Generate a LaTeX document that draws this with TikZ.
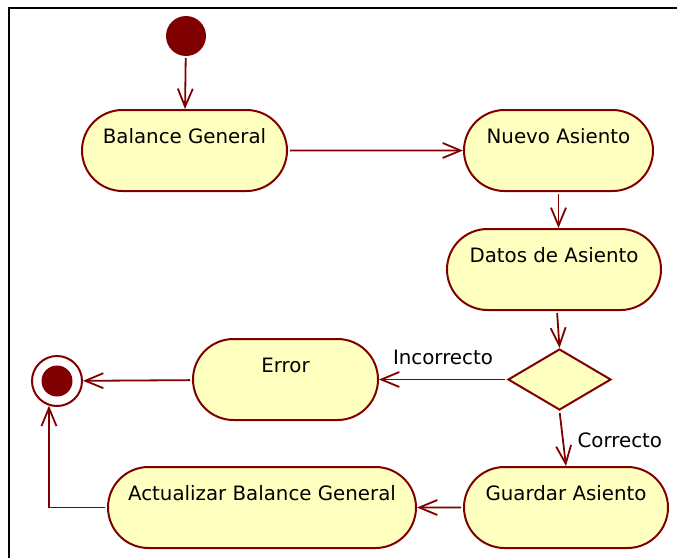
\documentclass[tikz,border=0pt]{standalone}
\usepackage{fontspec}
\setmainfont{DejaVu Sans}
\usetikzlibrary{arrows.meta,shapes.misc,shapes.geometric}
\definecolor{umlred}{RGB}{128,0,0}
\definecolor{umlfill}{RGB}{255,255,192}

\begin{document}
\begin{tikzpicture}[x=1pt,y=-1pt,
    act/.style={rounded rectangle, draw=umlred, line width=2pt, fill=umlfill,
        minimum height=81pt, inner sep=0pt,
        font=\fontsize{19.8}{24}\selectfont, text height=15pt, text depth=30pt},
    flow/.style={-{Straight Barb[length=18pt,width=15pt]}, draw=umlred,
        line width=1.8pt, shorten <=2pt},
    lbl/.style={font=\fontsize{19.8}{24}\selectfont, inner sep=2pt}]
    \useasboundingbox (0,0) rectangle (677,558);
    \draw[line width=2pt] (9,558) -- (9,8) -- (677,8);

    \node[circle, fill=umlred, minimum size=40pt, inner sep=0pt] (ini) at (186,36) {};
    \node[act, minimum width=205pt] (bal) at (184.5,150.5) {Balance General};
    \node[act, minimum width=189pt] (nuevo) at (558.5,150.5) {Nuevo Asiento};
    \node[act, minimum width=214pt] (datos) at (554,269.5) {Datos de Asiento};
    \node[diamond, draw=umlred, fill=umlfill, line width=2pt, inner sep=0pt,
        minimum width=103pt, minimum height=61pt] (dec) at (559.5,379.5) {};
    \node[act, minimum width=185pt] (err) at (285.5,379.5) {Error};
    \node[act, minimum width=308pt] (actual) at (262,507.5) {Actualizar Balance General};
    \node[act, minimum width=204pt] (guard) at (566,507.5) {Guardar Asiento};
    \node[circle, draw=umlred, line width=2pt, fill=white, minimum size=50pt,
        inner sep=0pt] (fin) at (57,381) {};
    \node[circle, fill=umlred, minimum size=31pt, inner sep=0pt] (fincore) at (fin.center) {};

    \draw[flow] (ini) -- (bal);
    \draw[flow] (bal) -- (nuevo);
    \draw[flow] (nuevo.south) -- (nuevo.south |- datos.north);
    \draw[flow] ([xshift=3pt]datos.south) -- (dec.north);
    \draw[flow] (dec.west) -- node[lbl, above=12pt] (inc) {Incorrecto} (err.east);
    \draw[flow] (dec.south) -- node[lbl, right, xshift=12pt, yshift=-2pt] (cor) {Correcto} (guard.north);
    \draw[flow] (guard) -- (actual);
    \draw[flow] (err) -- (fin);
    \draw[flow] (actual.west) -| (fin.252);
\end{tikzpicture}
\end{document}
